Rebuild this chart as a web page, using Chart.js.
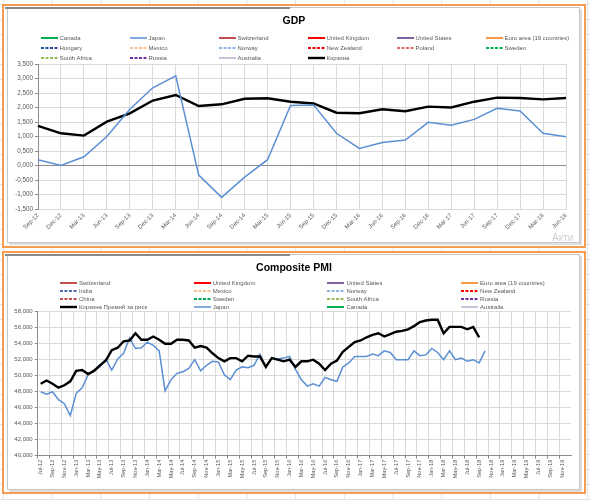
<!DOCTYPE html>
<html lang="ru">
<head>
<meta charset="UTF-8">
<title>GDP / Composite PMI</title>
<script src="https://cdn.jsdelivr.net/npm/chart.js"></script>
<style>
    body {
        margin: 0;
        width: 590px;
        height: 500px;
        position: relative;
        overflow: hidden;
        font-family: "Liberation Sans", Arial, sans-serif;
        background-color: #fff;
        background-image: linear-gradient(to right, #e2e2e2 1px, transparent 1px),
                          linear-gradient(to bottom, #e2e2e2 1px, transparent 1px);
        background-size: 48.7px 15px;
        background-position: 3px 4px;
    }
    .box {
        position: absolute;
        left: 2px;
        width: 584px;
        border: 2px solid #f79b4e;
        box-sizing: border-box;
        background: #fff;
    }
    .frame {
        position: absolute;
        left: 7px;
        width: 573px;
        border: 1px solid #c6c6c6;
        box-sizing: border-box;
        box-shadow: 2px 2px 0 #dedede;
        background: #fff;
    }
    .bar {
        position: absolute;
        left: 5px;
        width: 285px;
        height: 2px;
        background: #8a8a8a;
    }
    canvas { position: absolute; left: 0; }
    .title {
        position: absolute;
        left: 0;
        width: 588px;
        text-align: center;
        font-weight: bold;
        font-size: 10.5px;
        line-height: 13px;
        color: #000;
    }
    .lg {
        position: absolute;
        display: flex;
        align-items: center;
        height: 8px;
        font-size: 6px;
        color: #595959;
        white-space: nowrap;
    }
    .lg svg { margin-right: 2px; }
    .wm {
        position: absolute;
        left: 552px;
        top: 232px;
        font-size: 10px;
        color: #cfcfcf;
    }
</style>
</head>
<body>
    <div class="box" style="top:4px; height:244px;"></div>
    <div class="frame" style="top:7px; height:236px;"></div>
    <div class="bar" style="top:7px;"></div>

    <div class="box" style="top:251px; height:243px;"></div>
    <div class="frame" style="top:254px; height:236px;"></div>
    <div class="bar" style="top:254px;"></div>

    <canvas id="gdpChart" width="590" height="250" style="top:0;"></canvas>
    <canvas id="pmiChart" width="590" height="250" style="top:250px;"></canvas>

    <div class="title" style="top:14px;">GDP</div>
    <div class="title" style="top:261px;">Composite PMI</div>
    <div id="gdpLegend"></div>
    <div id="pmiLegend"></div>
    <div class="wm">Акти</div>

<script>
// ---- GDP (quarterly) ----
const gdpLabels = ['Sep-12', 'Dec-12', 'Mar-13', 'Jun-13', 'Sep-13', 'Dec-13', 'Mar-14', 'Jun-14',
    'Sep-14', 'Dec-14', 'Mar-15', 'Jun-15', 'Sep-15', 'Dec-15', 'Mar-16', 'Jun-16',
    'Sep-16', 'Dec-16', 'Mar-17', 'Jun-17', 'Sep-17', 'Dec-17', 'Mar-18', 'Jun-18'];
const gdpJapan = [0.20, 0.00, 0.30, 1.00, 1.94, 2.68, 3.09, -0.33, -1.10, -0.40, 0.20, 2.07,
    2.09, 1.11, 0.59, 0.79, 0.88, 1.49, 1.39, 1.59, 1.97, 1.88, 1.11, 0.99];
const gdpBasket = [1.37, 1.11, 1.03, 1.51, 1.80, 2.24, 2.43, 2.05, 2.11, 2.30, 2.32, 2.20,
    2.14, 1.82, 1.80, 1.94, 1.87, 2.03, 2.00, 2.20, 2.34, 2.33, 2.28, 2.33];
const gdpTicks = [-1.5, -1, -0.5, 0, 0.5, 1, 1.5, 2, 2.5, 3, 3.5];

// ---- Composite PMI (monthly) ----
const pmiLabels = [
    'Jul-12', 'Aug-12', 'Sep-12', 'Oct-12', 'Nov-12', 'Dec-12',
    'Jan-13', 'Feb-13', 'Mar-13', 'Apr-13', 'May-13', 'Jun-13', 'Jul-13', 'Aug-13', 'Sep-13', 'Oct-13', 'Nov-13', 'Dec-13',
    'Jan-14', 'Feb-14', 'Mar-14', 'Apr-14', 'May-14', 'Jun-14', 'Jul-14', 'Aug-14', 'Sep-14', 'Oct-14', 'Nov-14', 'Dec-14',
    'Jan-15', 'Feb-15', 'Mar-15', 'Apr-15', 'May-15', 'Jun-15', 'Jul-15', 'Aug-15', 'Sep-15', 'Oct-15', 'Nov-15', 'Dec-15',
    'Jan-16', 'Feb-16', 'Mar-16', 'Apr-16', 'May-16', 'Jun-16', 'Jul-16', 'Aug-16', 'Sep-16', 'Oct-16', 'Nov-16', 'Dec-16',
    'Jan-17', 'Feb-17', 'Mar-17', 'Apr-17', 'May-17', 'Jun-17', 'Jul-17', 'Aug-17', 'Sep-17', 'Oct-17', 'Nov-17', 'Dec-17',
    'Jan-18', 'Feb-18', 'Mar-18', 'Apr-18', 'May-18', 'Jun-18', 'Jul-18', 'Aug-18', 'Sep-18', 'Oct-18', 'Nov-18', 'Dec-18',
    'Jan-19', 'Feb-19', 'Mar-19', 'Apr-19', 'May-19', 'Jun-19', 'Jul-19', 'Aug-19', 'Sep-19', 'Oct-19', 'Nov-19', 'Dec-19'];
const pmiBasket = [49.0, 49.4, 49.0, 48.5, 48.8, 49.3, 50.6, 50.7, 50.2, 50.6, 51.3, 51.9,
    53.2, 53.5, 54.3, 54.4, 55.3, 54.5, 54.5, 54.9, 54.5, 54.0, 54.0, 54.5,
    54.5, 54.4, 53.5, 53.7, 53.5, 52.8, 52.2, 51.8, 52.2, 52.2, 51.8, 52.5,
    52.4, 52.4, 51.1, 52.2, 52.0, 51.8, 52.0, 51.1, 51.8, 51.8, 52.0, 51.5,
    50.7, 51.5, 51.9, 53.0, 53.6, 54.2, 54.4, 54.8, 55.1, 55.3, 54.9, 55.2,
    55.5, 55.6, 55.8, 56.2, 56.7, 56.9, 57.0, 57.0, 55.3, 56.1, 56.1, 56.1,
    55.8, 56.1, 54.8];
const pmiJapan = [48.0, 47.7, 48.0, 47.0, 46.5, 45.0, 47.8, 48.5, 50.1, 50.7, 51.1, 52.1,
    50.7, 52.1, 52.8, 54.7, 53.4, 53.5, 54.2, 53.8, 53.1, 48.1, 49.5, 50.3,
    50.5, 50.9, 52.0, 50.6, 51.3, 51.8, 51.7, 50.1, 49.5, 50.7, 51.1, 51.0,
    51.3, 52.7, 51.1, 52.2, 52.1, 52.2, 52.4, 50.8, 49.5, 48.7, 49.0, 48.7,
    49.8, 49.5, 49.3, 51.1, 51.6, 52.4, 52.4, 52.4, 52.7, 52.5, 53.1, 52.9,
    52.0, 52.0, 52.0, 53.1, 52.5, 52.6, 53.4, 52.9, 52.0, 53.1, 52.0, 52.2,
    51.8, 52.0, 51.6, 53.1];

const DASH = [3, 1.5];
const BLUE = '#5b8fd4';

function series(label, color, data, opts) {
    return Object.assign({
        label: label,
        data: data || [],
        borderColor: color,
        backgroundColor: color,
        borderWidth: 2,
        pointRadius: 0,
        fill: false
    }, opts || {});
}

function fmt(v) {
    return Number(v).toFixed(3).replace('.', ',');
}

// Excel-like legend grid built from the chart's own legend items
function buildLegend(chart, el, x0, dx, y0, dy, cols) {
    const items = chart.options.plugins.legend.labels.generateLabels(chart);
    items.forEach(function(it, i) {
        const c = i % cols, r = Math.floor(i / cols);
        const d = document.createElement('div');
        d.className = 'lg';
        d.style.left = (x0 + c * dx) + 'px';
        d.style.top = (y0 + r * dy - 4) + 'px';
        const dash = (it.lineDash || []).join(' ');
        d.innerHTML = '<svg width="17" height="4"><line x1="0" y1="2" x2="17" y2="2" stroke="' + it.strokeStyle +
            '" stroke-width="' + Math.min(it.lineWidth, 2.4) + '" stroke-dasharray="' + dash + '"/></svg><span>' + it.text + '</span>';
        el.appendChild(d);
    });
}

const gdpChart = new Chart(document.getElementById('gdpChart'), {
    type: 'line',
    data: {
        labels: gdpLabels,
        datasets: [
            series('Canada', '#00b050'),
            series('Japan', BLUE, gdpJapan, { borderWidth: 1.5 }),
            series('Switzerland', '#c0504d'),
            series('United Kingdom', '#ff0000'),
            series('United States', '#8064a2'),
            series('Euro area (19 countries)', '#f79646'),
            series('Hungary', '#1f4e9a', null, { borderDash: DASH }),
            series('Mexico', '#fabf8f', null, { borderDash: DASH }),
            series('Norway', '#8db4e2', null, { borderDash: DASH }),
            series('New Zealand', '#ff0000', null, { borderDash: DASH }),
            series('Poland', '#e06666', null, { borderDash: DASH }),
            series('Sweden', '#00b050', null, { borderDash: DASH }),
            series('South Africa', '#9bbb59', null, { borderDash: DASH }),
            series('Russia', '#7030a0', null, { borderDash: DASH }),
            series('Australia', '#ccc0da'),
            series('Корзина', '#000000', gdpBasket, { borderWidth: 2.4 })
        ]
    },
    options: {
        responsive: false,
        animation: false,
        layout: { padding: { left: 4, right: 24, top: 64, bottom: 11 } },
        plugins: {
            legend: { display: false },
            tooltip: { enabled: false }
        },
        scales: {
            x: {
                offset: false,
                grid: { color: '#dadada', drawTicks: false },
                border: { color: '#dadada' },
                ticks: {
                    autoSkip: false, minRotation: 45, maxRotation: 45, padding: 3,
                    color: '#595959', font: { family: 'Liberation Sans', size: 6 }
                },
                afterFit: function(s) { s.height = 30; }
            },
            y: {
                min: -1.5,
                max: 3.5,
                afterBuildTicks: function(s) { s.ticks = gdpTicks.map(v => ({ value: v })); },
                ticks: {
                    callback: fmt, padding: 2,
                    color: '#595959', font: { family: 'Liberation Sans', size: 6.3 }
                },
                grid: {
                    color: ctx => ctx.tick && ctx.tick.value === 0 ? '#8c8c8c' : '#dadada',
                    tickColor: '#8c8c8c',
                    tickLength: 3
                },
                border: { color: '#8c8c8c' },
                afterFit: function(s) { s.width = 34; }
            }
        }
    }
});

const pmiChart = new Chart(document.getElementById('pmiChart'), {
    type: 'line',
    data: {
        labels: pmiLabels,
        datasets: [
            series('Switzerland', '#c0504d'),
            series('United Kingdom', '#ff0000'),
            series('United States', '#8064a2'),
            series('Euro area (19 countries)', '#f79646'),
            series('India', '#4f6fb0', null, { borderDash: DASH }),
            series('Mexico', '#fabf8f', null, { borderDash: DASH }),
            series('Norway', '#8db4e2', null, { borderDash: DASH }),
            series('New Zealand', '#ff0000', null, { borderDash: DASH }),
            series('China', '#c0504d', null, { borderDash: DASH }),
            series('Sweden', '#00a650', null, { borderDash: DASH }),
            series('South Africa', '#9bbb59', null, { borderDash: DASH }),
            series('Russia', '#7030a0', null, { borderDash: DASH }),
            series('Корзина Премий за риск', '#000000', pmiBasket, { borderWidth: 2.4 }),
            series('Japan', BLUE, pmiJapan, { borderWidth: 1.5 }),
            series('Canada', '#00b050'),
            series('Australia', '#ccc0da')
        ]
    },
    options: {
        responsive: false,
        animation: false,
        layout: { padding: { left: 4, right: 19, top: 61.7, bottom: 12 } },
        plugins: {
            legend: { display: false },
            tooltip: { enabled: false }
        },
        scales: {
            x: {
                offset: true,
                grid: {
                    offset: true,
                    color: ctx => ctx.index % 2 === 0 ? '#dadada' : 'rgba(0,0,0,0)',
                    tickColor: ctx => ctx.index % 2 === 0 ? '#8c8c8c' : 'rgba(0,0,0,0)',
                    tickLength: 3
                },
                border: { color: '#8c8c8c' },
                ticks: {
                    autoSkip: false, minRotation: 90, maxRotation: 90, padding: 1,
                    color: '#595959', font: { family: 'Liberation Sans', size: 5.6 },
                    callback: function(v, i) { return i % 2 === 0 ? this.getLabelForValue(v) : ''; }
                },
                afterFit: function(s) { s.height = 32.3; }
            },
            y: {
                min: 40,
                max: 58,
                ticks: {
                    stepSize: 2, callback: fmt, padding: 2,
                    color: '#595959', font: { family: 'Liberation Sans', size: 6 }
                },
                grid: { color: '#dadada', tickColor: '#8c8c8c', tickLength: 3 },
                border: { color: '#8c8c8c' },
                afterFit: function(s) { s.width = 33.7; }
            }
        }
    }
});

buildLegend(gdpChart, document.getElementById('gdpLegend'), 40.5, 89, 38.3, 10, 6);
buildLegend(pmiChart, document.getElementById('pmiLegend'), 60, 133.7, 283.3, 7.8, 4);
</script>
</body>
</html>
